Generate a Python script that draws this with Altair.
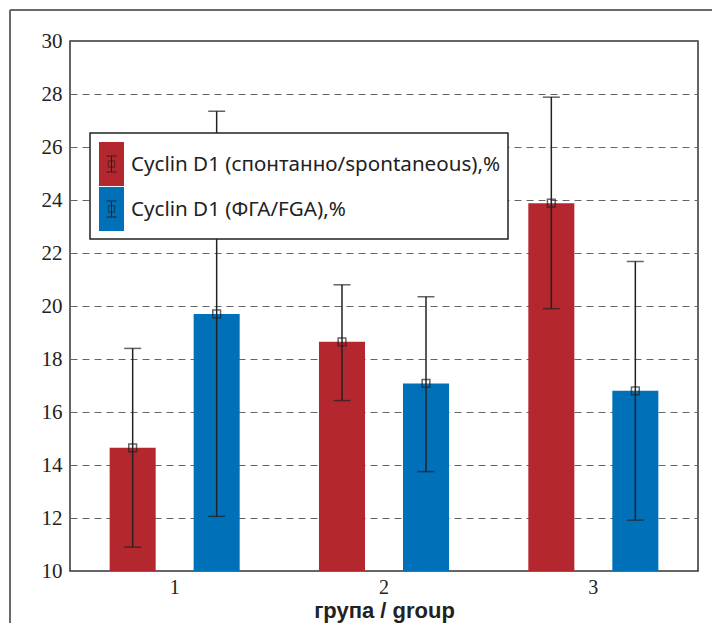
import altair as alt
import pandas as pd

groups = ["1", "2", "3"]
series = ["Cyclin D1 (спонтанно/spontaneous),%", "Cyclin D1 (ФГА/FGA),%"]
colors = ["#b5272f", "#0070b9"]

means_spont = [14.65, 18.65, 23.88]
low_spont = [10.9, 16.43, 19.9]
high_spont = [18.4, 20.8, 27.88]

means_fga = [19.7, 17.08, 16.8]
low_fga = [12.06, 13.75, 11.92]
high_fga = [27.35, 20.35, 21.68]

rows = []
for i, g in enumerate(groups):
    rows.append({"group": g, "series": series[0], "mean": means_spont[i],
                 "low": low_spont[i], "high": high_spont[i]})
    rows.append({"group": g, "series": series[1], "mean": means_fga[i],
                 "low": low_fga[i], "high": high_fga[i]})
df = pd.DataFrame(rows)

W, H = 628, 530
INK = "#222"

x_enc = alt.X("group:N", title="група / group",
              scale=alt.Scale(paddingInner=0, paddingOuter=0),
              axis=alt.Axis(labelAngle=0, labelFont="Liberation Sans Narrow",
                            labelFontSize=20, labelColor=INK, labelPadding=6,
                            ticks=False, domain=False,
                            titleFont="Liberation Sans", titleFontSize=22,
                            titleFontWeight="bold", titleColor=INK,
                            titlePadding=3))
xoff = alt.XOffset("series:N", sort=series,
                   scale=alt.Scale(domain=series, paddingInner=0.452, paddingOuter=0.472))
y_scale = alt.Scale(domain=[10, 30], nice=False, zero=False)

base = alt.Chart(df)

bars = base.mark_bar().encode(
    x=x_enc,
    xOffset=xoff,
    y=alt.Y("mean:Q", title=None, scale=y_scale,
            axis=alt.Axis(values=list(range(10, 31, 2)), labelFont="Liberation Sans Narrow",
                          labelFontSize=21, labelColor=INK, labelPadding=8,
                          ticks=False, domain=False, grid=True,
                          gridDash=[7, 5], gridColor="#666", gridWidth=1)),
    y2=alt.datum(10),
    color=alt.Color("series:N", sort=series,
                    scale=alt.Scale(domain=series, range=colors),
                    # legend supplies the labels; box and swatches drawn below
                    legend=alt.Legend(orient="none", legendX=1, legendY=93, title=None,
                                      symbolType="square",
                                      symbolSize=1936, symbolStrokeWidth=0,
                                      symbolOpacity=0,
                                      padding=9, labelFontSize=20.6, labelFont="Noto Sans",
                                      labelColor=INK, labelOffset=7, rowPadding=1,
                                      labelLimit=600)),
)

rules = base.mark_rule(color=INK, strokeWidth=1.5).encode(
    x=alt.X("group:N"), xOffset=xoff,
    y=alt.Y("low:Q", scale=y_scale), y2="high:Q")

caps_lo = base.mark_tick(color=INK, size=17, thickness=1.5).encode(
    x=alt.X("group:N"), xOffset=xoff, y=alt.Y("low:Q", scale=y_scale))
caps_hi = base.mark_tick(color=INK, size=17, thickness=1.5).encode(
    x=alt.X("group:N"), xOffset=xoff, y=alt.Y("high:Q", scale=y_scale))

pts = base.mark_point(shape="square", filled=False, color=INK, size=60,
                      strokeWidth=1.5).encode(
    x=alt.X("group:N"), xOffset=xoff, y=alt.Y("mean:Q", scale=y_scale))

one = alt.Chart(pd.DataFrame({"a": [0]}))

# outer page frame (cut off at right/bottom like the reference)
frame_top = one.mark_rule(stroke="#6a6a6a", strokeWidth=2).encode(
    x=alt.value(-60), x2=alt.value(642), y=alt.value(-31))
frame_left = one.mark_rule(stroke="#6a6a6a", strokeWidth=2).encode(
    x=alt.value(-60), y=alt.value(-31), y2=alt.value(582))

# legend box, swatches and error-bar icons
legend_box = one.mark_rect(fill="white", stroke=INK, strokeWidth=1.5).encode(
    x=alt.value(20), x2=alt.value(438), y=alt.value(92), y2=alt.value(198))
legend_layers = [legend_box]
for col, (y0, y1) in zip(colors, [(101, 145), (146, 190)]):
    legend_layers.append(one.mark_rect(fill=col).encode(
        x=alt.value(29), x2=alt.value(54), y=alt.value(y0), y2=alt.value(y1)))
for yc in (123, 168):
    legend_layers.append(one.mark_rule(color=INK, strokeWidth=1).encode(
        x=alt.value(41.5), y=alt.value(yc - 8), y2=alt.value(yc + 8)))
    legend_layers.append(one.mark_rule(color=INK, strokeWidth=1).encode(
        x=alt.value(36.5), x2=alt.value(46.5), y=alt.value(yc - 8)))
    legend_layers.append(one.mark_rule(color=INK, strokeWidth=1).encode(
        x=alt.value(36.5), x2=alt.value(46.5), y=alt.value(yc + 8)))
    legend_layers.append(one.mark_point(shape="square", filled=False, color=INK,
                                        size=40, strokeWidth=1).encode(
        x=alt.value(41.5), y=alt.value(yc)))

chart = alt.layer(frame_top, frame_left, bars, rules, caps_lo, caps_hi, pts,
                  *legend_layers).properties(
    width=W, height=H,
    padding={"left": 1, "top": 1, "right": 0, "bottom": 0},
).configure_view(stroke="#333", strokeWidth=1.5)

chart.save("out.html", embed_options={"renderer": "svg", "actions": False})
